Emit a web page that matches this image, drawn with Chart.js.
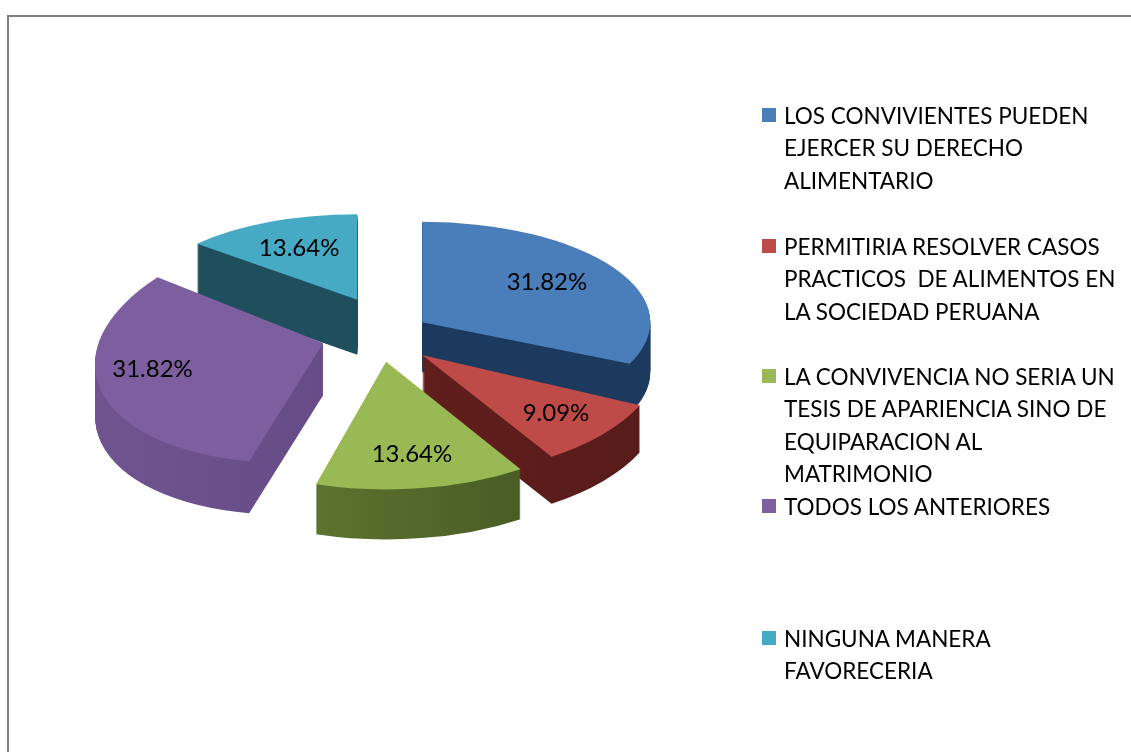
<!DOCTYPE html>
<html>
<head>
<meta charset="utf-8">
<title>Pie</title>
<script src="https://cdn.jsdelivr.net/npm/chart.js@4"></script>
<style>
    html, body { margin: 0; padding: 0; background: #fff; }
    #wrap { position: relative; width: 1131px; height: 752px; overflow: hidden; font-family: Lato, sans-serif; }
    #frame { position: absolute; left: 7px; top: 15px; width: 1130px; height: 745px; border-left: 2px solid #808080; border-top: 2px solid #808080; box-sizing: border-box; }
    canvas { position: absolute; left: 0; top: 0; }
    .item { position: absolute; left: 784px; font-size: 22.5px; line-height: 32.4px; color: #000; white-space: pre; }
    .item i { position: absolute; left: -22px; top: 8px; width: 14px; height: 14px; }
</style>
</head>
<body>
<div id="wrap">
    <div id="frame"></div>
    <canvas id="pie" width="1131" height="752"></canvas>
    <div id="legend"></div>
</div>
<script>
const categories = [
    'LOS CONVIVIENTES PUEDEN\nEJERCER SU DERECHO\nALIMENTARIO',
    'PERMITIRIA RESOLVER CASOS\nPRACTICOS  DE ALIMENTOS EN\nLA SOCIEDAD PERUANA',
    'LA CONVIVENCIA NO SERIA UN\nTESIS DE APARIENCIA SINO DE\nEQUIPARACION AL\nMATRIMONIO',
    'TODOS LOS ANTERIORES',
    'NINGUNA MANERA\nFAVORECERIA'
];
const percents = [31.82, 9.09, 13.64, 31.82, 13.64];

const topColors = ['#4a7ebb', '#be4b48', '#98b954', '#7d5fa0', '#46aac5'];
const wallColors = [
    ['#1c3a5e', '#1c3a5e'],
    ['#6b2220', '#561b19'],
    ['#6d8636', '#3f5020'],
    ['#6f5490', '#5f4680'],
    ['#1f4e5c', '#1f4e5c']
];

// 3D look: the library gives a flat pie, the plugin squashes and extrudes it
// each slice has its own matrix because the original has perspective
const explodeX = [55, 61, 71, 55, 45];
const explodeY = [27.5, 27.5, 25, 21, 41];
const sliceMatrix = [
    [1.0, 0, 0, 0.44],
    [1.05, 0, 0, 0.53],
    [1.09, 0, 0, 0.56],
    [1.0, -0.07, -0.045, 0.52],
    [0.93, 0, 0, 0.375]
];
const depths = [50, 47, 50, 52, 55];
const labelDist = [0.65, 0.74, 0.73, 0.77, 0.66];
const labelNudge = [-5, 0, 0, -11, 0];
const drawOrder = [4, 0, 3, 1, 2];
const legendTops = [100, 231, 361, 491, 623];

// 범례
const legend = document.getElementById('legend');
categories.forEach((text, i) => {
    const div = document.createElement('div');
    div.className = 'item';
    div.style.top = legendTops[i] + 'px';
    div.textContent = text;
    const mark = document.createElement('i');
    mark.style.background = topColors[i];
    div.appendChild(mark);
    legend.appendChild(div);
});

const midAngle = (arc) => (arc.startAngle + arc.endAngle) / 2;

const placeSlice = (ctx, arc, i, down) => {
    const a = midAngle(arc);
    const [m11, m12, m21, m22] = sliceMatrix[i];
    ctx.translate(arc.x + Math.cos(a) * explodeX[i], arc.y + Math.sin(a) * explodeY[i] + down);
    ctx.transform(m11, m12, m21, m22, 0, 0);
    ctx.translate(-arc.x, -arc.y);
};

const drawWith = (ctx, arc, fill) => {
    const original = arc.options;
    arc.options = { ...original, backgroundColor: fill, borderWidth: 0 };
    arc.draw(ctx);
    arc.options = original;
};

const pie3d = {
    id: 'pie3d',
    beforeDatasetsDraw(chart) {
        const ctx = chart.ctx;
        const arcs = chart.getDatasetMeta(0).data;
        drawOrder.forEach(i => {
            const arc = arcs[i];
            const wall = ctx.createLinearGradient(arc.x - arc.outerRadius, 0, arc.x + arc.outerRadius, 0);
            wall.addColorStop(0, wallColors[i][0]);
            wall.addColorStop(1, wallColors[i][1]);
            for (let d = depths[i]; d > 0; d--) {
                ctx.save();
                placeSlice(ctx, arc, i, d);
                drawWith(ctx, arc, wall);
                ctx.restore();
            }
            ctx.save();
            placeSlice(ctx, arc, i, 0);
            drawWith(ctx, arc, topColors[i]);
            ctx.restore();
        });
        return false;
    },
    afterDraw(chart) {
        const ctx = chart.ctx;
        ctx.save();
        ctx.fillStyle = '#000';
        ctx.font = '24px Lato, sans-serif';
        ctx.textAlign = 'center';
        ctx.textBaseline = 'middle';
        chart.getDatasetMeta(0).data.forEach((arc, i) => {
            const a = midAngle(arc);
            const [m11, m12, m21, m22] = sliceMatrix[i];
            const px = Math.cos(a) * arc.outerRadius * labelDist[i];
            const py = Math.sin(a) * arc.outerRadius * labelDist[i];
            const x = arc.x + Math.cos(a) * explodeX[i] + m11 * px + m21 * py;
            const y = arc.y + Math.sin(a) * explodeY[i] + m12 * px + m22 * py + labelNudge[i];
            ctx.fillText(percents[i].toFixed(2) + '%', x, y);
        });
        ctx.restore();
    }
};

new Chart(document.getElementById('pie'), {
    type: 'pie',
    data: {
        labels: categories,
        datasets: [{
            data: percents,
            backgroundColor: topColors,
            borderWidth: 0
        }]
    },
    options: {
        responsive: false,
        animation: false,
        layout: { padding: { left: 148, right: 527, top: 109, bottom: 187 } },
        plugins: {
            legend: { display: false },
            tooltip: { enabled: false }
        }
    },
    plugins: [pie3d]
});
</script>
</body>
</html>
